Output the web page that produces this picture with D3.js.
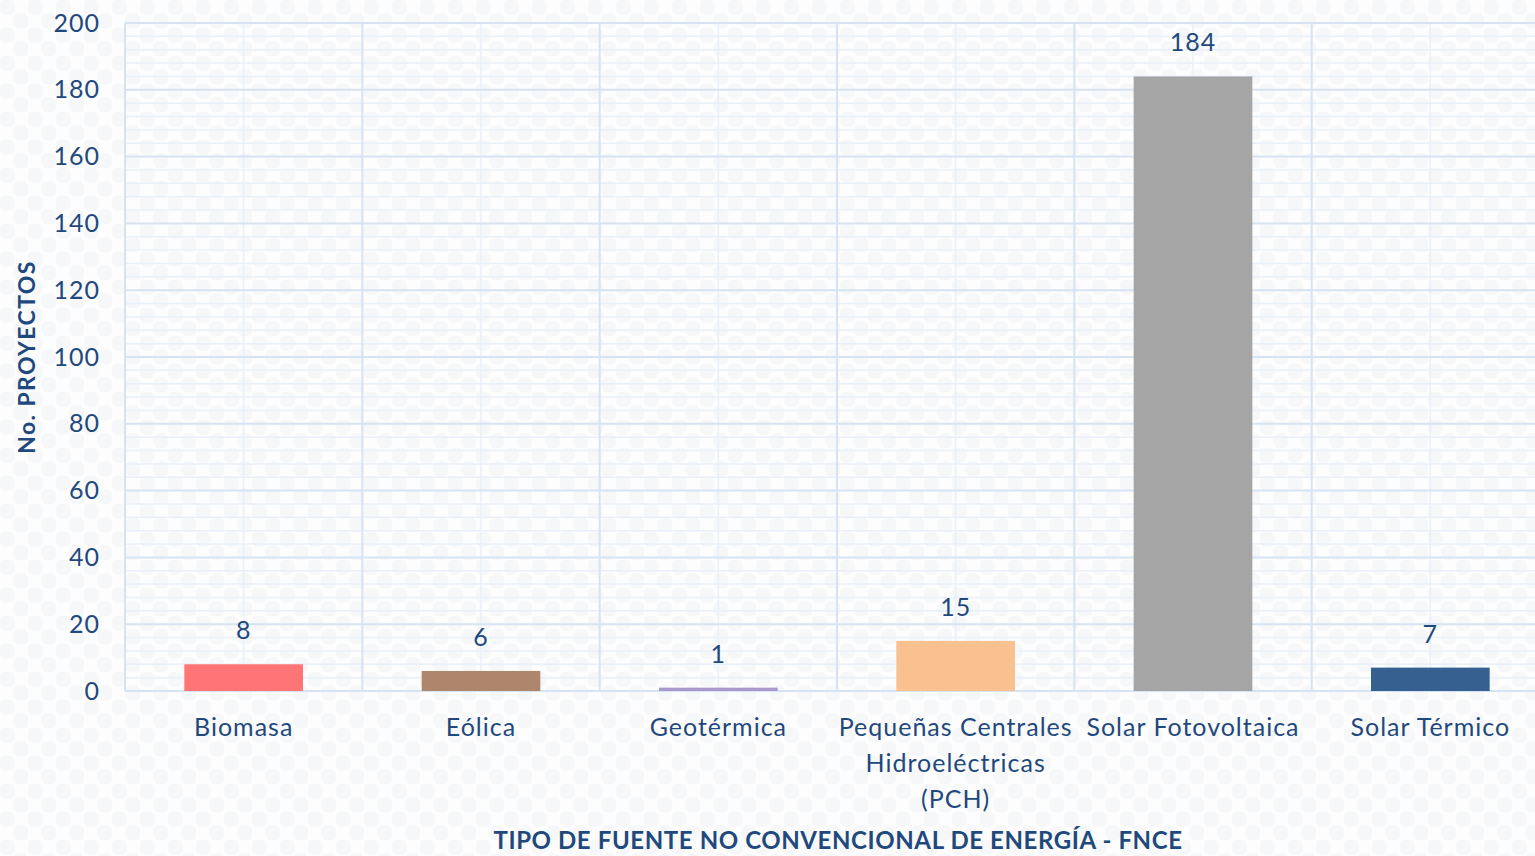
<!DOCTYPE html>
<html><head><meta charset="utf-8">
<script src="https://cdn.jsdelivr.net/npm/d3@7"></script>
<style>html,body{margin:0;padding:0;background:#fff;overflow:hidden}</style>
</head><body>
<svg id="c" width="1535" height="856"></svg>
<script>
const categories = ["Biomasa","Eólica","Geotérmica","Pequeñas Centrales Hidroeléctricas (PCH)","Solar Fotovoltaica","Solar Térmico"];
const labelLines = [["Biomasa"],["Eólica"],["Geotérmica"],["Pequeñas Centrales","Hidroeléctricas","(PCH)"],["Solar Fotovoltaica"],["Solar Térmico"]];
const values = [8,6,1,15,184,7];
const colors = ["#FF7474","#AE866B","#A99ACB","#F9C18F","#A5A5A5","#35608F"];
const yTicks = [0,20,40,60,80,100,120,140,160,180,200];

(function(){
const svg = d3.select("#c");
const W=1535,H=856;
const pL=125, pR=1549, pT=23, pB=691;
const font="Lato, 'Open Sans', sans-serif";
const txt="#1F497D";
const ls="1px";
const fs=25;

const defs=svg.append("defs");
const pat=defs.append("pattern").attr("id","dots").attr("width",28).attr("height",28).attr("patternUnits","userSpaceOnUse");
pat.append("rect").attr("width",28).attr("height",28).attr("fill","#fdfdfd");
pat.append("circle").attr("cx",7).attr("cy",7).attr("r",8).attr("fill","#f6f7f9");
pat.append("circle").attr("cx",21).attr("cy",21).attr("r",8).attr("fill","#f6f7f9");
svg.append("rect").attr("width",W).attr("height",H).attr("fill","url(#dots)");

const x=d3.scaleBand().domain(categories).range([pL,pR]).paddingInner(0).paddingOuter(0);
const y=d3.scaleLinear().domain([0,200]).range([pB,pT]);

const minor=d3.range(0,201,4).filter(v=>v%20!==0);
svg.append("g").selectAll("line").data(minor).join("line")
  .attr("x1",pL).attr("x2",pR).attr("y1",d=>y(d)).attr("y2",d=>y(d))
  .attr("stroke","#E8F0F9").attr("stroke-width",1.5);
svg.append("g").selectAll("line").data(categories).join("line")
  .attr("x1",d=>x(d)+x.bandwidth()/2).attr("x2",d=>x(d)+x.bandwidth()/2).attr("y1",pT).attr("y2",pB)
  .attr("stroke","#E8F0F9").attr("stroke-width",1.5);
svg.append("g").selectAll("line").data(yTicks).join("line")
  .attr("x1",pL).attr("x2",pR).attr("y1",d=>y(d)).attr("y2",d=>y(d))
  .attr("stroke","#D5E3F3").attr("stroke-width",2);
svg.append("g").selectAll("line").data(categories).join("line")
  .attr("x1",d=>x(d)).attr("x2",d=>x(d)).attr("y1",pT).attr("y2",pB)
  .attr("stroke","#D5E3F3").attr("stroke-width",2);

const bw=x.bandwidth()*0.5;
svg.append("g").selectAll("rect").data(values).join("rect")
  .attr("x",(d,i)=>x(categories[i])+x.bandwidth()/2-bw/2)
  .attr("width",bw)
  .attr("y",d=>y(d)).attr("height",d=>y(0)-y(d))
  .attr("fill",(d,i)=>colors[i]);

svg.append("g").selectAll("text").data(values).join("text")
  .attr("x",(d,i)=>x(categories[i])+x.bandwidth()/2)
  .attr("y",d=>y(d)-25)
  .attr("text-anchor","middle").attr("font-family",font).attr("font-size",fs)
  .attr("letter-spacing",ls)
  .attr("fill",txt).text(d=>d);

const yAxis=d3.axisLeft(y).tickValues(yTicks).tickSize(0).tickPadding(25);
const ga=svg.append("g").attr("transform",`translate(${pL},0)`).call(yAxis);
ga.select(".domain").remove();
ga.selectAll("text").attr("font-family",font).attr("font-size",fs).attr("fill",txt).attr("letter-spacing",ls);

const gx=svg.append("g");
labelLines.forEach((lines,i)=>{
  const cx=x(categories[i])+x.bandwidth()/2;
  const t=gx.append("text").attr("x",cx).attr("y",736)
    .attr("text-anchor","middle").attr("font-family",font).attr("font-size",fs).attr("fill",txt)
    .attr("letter-spacing",ls);
  lines.forEach((l,j)=>t.append("tspan").attr("x",cx).attr("dy",j?36:0).text(l));
});

svg.append("text").attr("x",838).attr("y",849).attr("text-anchor","middle")
  .attr("font-family",font).attr("font-weight","bold").attr("font-size",24).attr("fill",txt)
  .attr("letter-spacing","0.6px")
  .text("TIPO DE FUENTE NO CONVENCIONAL DE ENERGÍA - FNCE");
svg.append("text").attr("transform","translate(35,357) rotate(-90)").attr("text-anchor","middle")
  .attr("font-family",font).attr("font-weight","bold").attr("font-size",23).attr("fill",txt)
  .attr("letter-spacing","1.4px")
  .text("No. PROYECTOS");
})();
</script>
</body></html>
